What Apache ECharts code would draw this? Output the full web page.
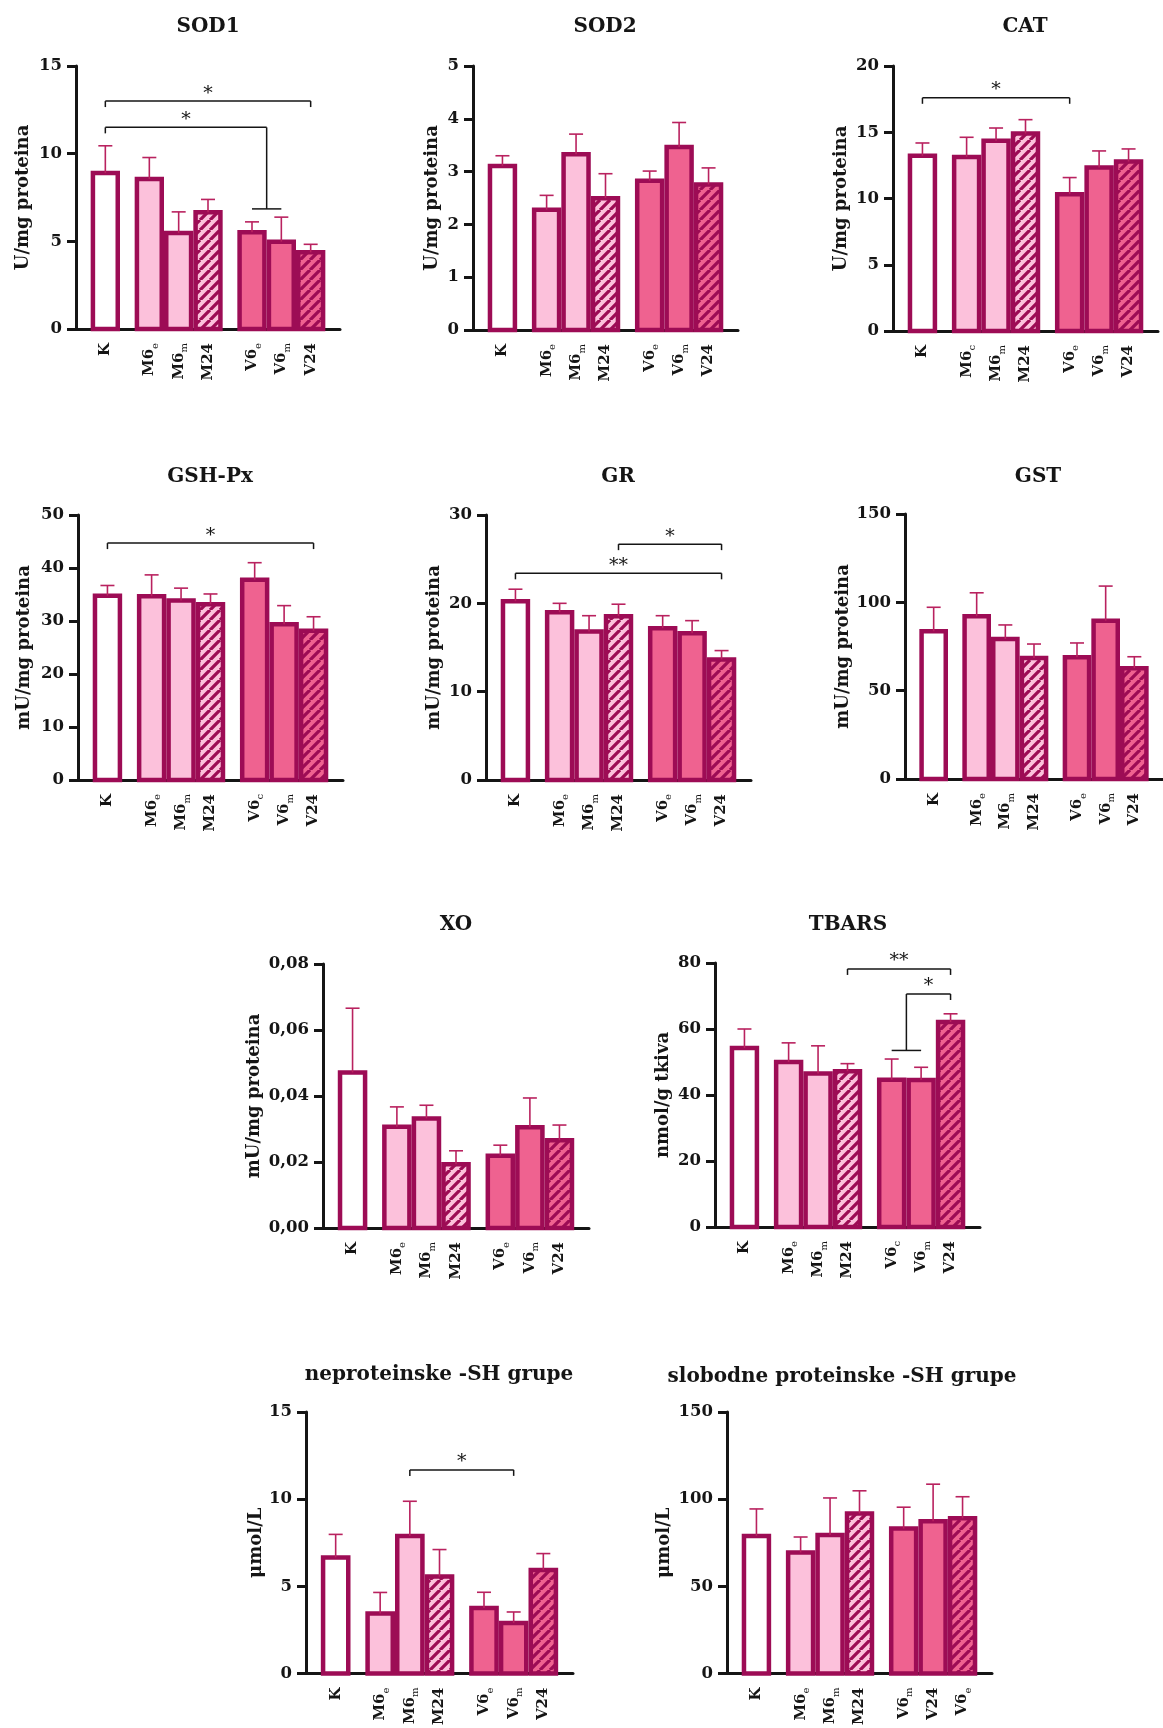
<!DOCTYPE html>
<html>
<head>
<meta charset="utf-8">
<script src="https://cdn.jsdelivr.net/npm/echarts@6/dist/echarts.min.js"></script>
<style>
  html, body { margin: 0; padding: 0; background: #ffffff; }
  #c { width: 1163px; height: 1728px; }
</style>
</head>
<body>
<div id="c"></div>
<script>
// ---- group labels ("_" marks a subscript) ----
const catsStd   = ['K', 'M6_e', 'M6_m', 'M24', 'V6_e', 'V6_m', 'V24'];
const catsCat   = ['K', 'M6_c', 'M6_m', 'M24', 'V6_e', 'V6_m', 'V24'];
const catsV6c   = ['K', 'M6_e', 'M6_m', 'M24', 'V6_c', 'V6_m', 'V24'];
const catsSlob  = ['K', 'M6_e', 'M6_m', 'M24', 'V6_m', 'V24', 'V6_e'];

// ---- means and SEM per parameter ----
const sod1Mean = [9.02, 8.68, 5.60, 6.78, 5.64, 5.11, 4.50];
const sod1Sem  = [1.43, 1.10, 1.08, 0.61, 0.47, 1.27, 0.33];
const sod1Ticks = [0, 5, 10, 15];

const sod2Mean = [3.15, 2.32, 3.37, 2.54, 2.87, 3.51, 2.80];
const sod2Sem  = [0.15, 0.23, 0.34, 0.42, 0.14, 0.42, 0.27];
const sod2Ticks = [0, 1, 2, 3, 4, 5];

const catMean = [13.39, 13.31, 14.52, 15.07, 10.50, 12.51, 12.96];
const catSem  = [0.80, 1.31, 0.80, 0.88, 1.08, 1.08, 0.78];
const catTicks = [0, 5, 10, 15, 20];

const gpxMean = [35.2, 35.1, 34.3, 33.6, 38.2, 29.8, 28.6];
const gpxSem  = [1.5, 3.6, 1.9, 1.5, 2.8, 3.1, 2.2];
const gpxTicks = [0, 10, 20, 30, 40, 50];

const grMean = [20.5, 19.25, 17.06, 18.8, 17.44, 16.87, 13.9];
const grSem  = [1.1, 0.75, 1.54, 1.1, 1.16, 1.17, 0.75];
const grTicks = [0, 10, 20, 30];

const gstMean = [84.9, 93.4, 80.5, 69.8, 70.2, 90.9, 64.0];
const gstSem  = [12.3, 12.0, 6.7, 6.6, 6.8, 18.3, 5.2];
const gstTicks = [0, 50, 100, 150];

const xoMean = [0.0478, 0.0314, 0.0339, 0.0200, 0.0226, 0.0312, 0.0273];
const xoSem  = [0.0188, 0.0053, 0.0033, 0.0034, 0.0025, 0.0082, 0.0039];
const xoTicks = [0, 0.02, 0.04, 0.06, 0.08];

const tbarsMean = [54.9, 50.7, 47.2, 47.9, 45.3, 45.2, 62.8];
const tbarsSem  = [5.1, 5.1, 7.7, 1.6, 5.6, 3.2, 1.8];
const tbarsTicks = [0, 20, 40, 60, 80];

const npshMean = [6.79, 3.57, 8.02, 5.69, 3.89, 3.03, 6.07];
const npshSem  = [1.19, 1.08, 1.86, 1.42, 0.77, 0.50, 0.81];
const npshTicks = [0, 5, 10, 15];

const pshMean = [80.2, 70.7, 80.8, 93.1, 84.4, 88.7, 90.3];
const pshSem  = [14.2, 7.6, 19.9, 11.7, 11.0, 19.9, 11.1];
const pshTicks = [0, 50, 100, 150];

// ---- significance brackets (bar indices; [i, j] = pooled pair) ----
const sod1Sig  = [
  { from: 0, to: 6, at: 13.0, mark: '*' },
  { from: 0, to: [4, 5], at: 11.5, foot: 6.85, mark: '*' }
];
const catSig   = [{ from: 0, to: 4, at: 17.6, mark: '*' }];
const gpxSig   = [{ from: 0, to: 6, at: 44.7, mark: '*' }];
const grSig    = [
  { from: 3, to: 6, at: 26.7, mark: '*' },
  { from: 0, to: 6, at: 23.4, mark: '**' }
];
const tbarsSig = [
  { from: 3, to: 6, at: 78.2, mark: '**' },
  { from: [4, 5], to: 6, at: 70.6, foot: 53.5, mark: '*' }
];
const npshSig  = [{ from: 2, to: 5, at: 11.68, mark: '*' }];

// ---- bar slots: control, then two groups of three ----
const slots = [0, 1.5, 2.5, 3.5, 5, 6, 7];
const looks = ['open', 'light', 'light', 'lightHatch', 'deep', 'deep', 'deepHatch'];

const comma2 = v => v.toFixed(2).replace('.', ',');
const plain = v => String(Math.round(v));

const panels = [
  { title: 'SOD1', unit: 'U/mg proteina', cats: catsStd, mean: sod1Mean, sem: sod1Sem, ticks: sod1Ticks, sig: sod1Sig, fmt: plain },
  { title: 'SOD2', unit: 'U/mg proteina', cats: catsStd, mean: sod2Mean, sem: sod2Sem, ticks: sod2Ticks, sig: [], fmt: plain },
  { title: 'CAT', unit: 'U/mg proteina', cats: catsCat, mean: catMean, sem: catSem, ticks: catTicks, sig: catSig, fmt: plain },
  { title: 'GSH-Px', unit: 'mU/mg proteina', cats: catsV6c, mean: gpxMean, sem: gpxSem, ticks: gpxTicks, sig: gpxSig, fmt: plain },
  { title: 'GR', unit: 'mU/mg proteina', cats: catsStd, mean: grMean, sem: grSem, ticks: grTicks, sig: grSig, fmt: plain },
  { title: 'GST', unit: 'mU/mg proteina', cats: catsStd, mean: gstMean, sem: gstSem, ticks: gstTicks, sig: [], fmt: plain },
  { title: 'XO', unit: 'mU/mg proteina', cats: catsStd, mean: xoMean, sem: xoSem, ticks: xoTicks, sig: [], fmt: comma2 },
  { title: 'TBARS', unit: 'nmol/g tkiva', cats: catsV6c, mean: tbarsMean, sem: tbarsSem, ticks: tbarsTicks, sig: tbarsSig, fmt: plain },
  { title: 'neproteinske -SH grupe', unit: 'μmol/L', cats: catsStd, mean: npshMean, sem: npshSem, ticks: npshTicks, sig: npshSig, fmt: plain },
  { title: 'slobodne proteinske -SH grupe', unit: 'μmol/L', cats: catsSlob, mean: pshMean, sem: pshSem, ticks: pshTicks, sig: [], fmt: plain }
];

// plot boxes and title anchors for the 3 + 3 + 2 + 2 arrangement
const frames = [
  { left: 76,  top: 66,   width: 264, height: 263, tx: 208,  ty: 27,   gap: 44 },
  { left: 473, top: 66,   width: 265, height: 264, tx: 605,  ty: 27,   gap: 32 },
  { left: 893, top: 66,   width: 265, height: 265, tx: 1025, ty: 27,   gap: 43 },
  { left: 78,  top: 515,  width: 265, height: 265, tx: 210,  ty: 477,  gap: 45 },
  { left: 486, top: 515,  width: 265, height: 265, tx: 618,  ty: 477,  gap: 43 },
  { left: 905, top: 514,  width: 264, height: 265, tx: 1038, ty: 477,  gap: 49 },
  { left: 323, top: 964,  width: 266, height: 264, tx: 456,  ty: 925,  gap: 60 },
  { left: 715, top: 963,  width: 265, height: 264, tx: 848,  ty: 925,  gap: 43 },
  { left: 306, top: 1412, width: 267, height: 264, tx: 439,  ty: 1375, gap: 40 },
  { left: 727, top: 1412, width: 265, height: 264, tx: 842,  ty: 1377, gap: 54 }
];

const SERIF = "'DejaVu Serif', 'Liberation Serif', serif";
const INK = '#151515';
const EDGE = '#9d0c55';
const WHISKER = '#b9225f';
const PINK_LIGHT = '#fcc1db';
const PINK_DEEP = '#ef6290';
const EDGE_W = 4.5;

function hatch(bg) {
  const c = document.createElement('canvas');
  c.width = 10; c.height = 10;
  const g = c.getContext('2d');
  g.fillStyle = bg;
  g.fillRect(0, 0, 10, 10);
  g.strokeStyle = EDGE;
  g.lineWidth = 3.3;
  g.beginPath();
  for (const o of [-10, 0, 10]) { g.moveTo(o, 10); g.lineTo(o + 10, 0); }
  g.stroke();
  return { image: c, repeat: 'repeat' };
}

const fills = {
  open: '#ffffff',
  light: PINK_LIGHT,
  lightHatch: hatch(PINK_LIGHT),
  deep: PINK_DEEP,
  deepHatch: hatch(PINK_DEEP)
};

function barItem(params, api) {
  const x = api.value(0), m = api.value(1), s = api.value(2), k = api.value(3);
  const top = api.coord([x, m]);
  const base = api.coord([x, 0]);
  const tip = api.coord([x, m + s]);
  const pitch = api.size([1, 0])[0];
  const w = pitch - EDGE_W;
  const cap = 7;
  return {
    type: 'group',
    children: [
      {
        type: 'rect',
        shape: { x: top[0] - w / 2, y: top[1] + EDGE_W / 2, width: w, height: base[1] - top[1] - EDGE_W / 2 },
        style: { fill: fills[looks[k]], stroke: EDGE, lineWidth: EDGE_W }
      },
      {
        type: 'line',
        shape: { x1: top[0], y1: top[1] + EDGE_W / 2, x2: top[0], y2: tip[1] },
        style: { stroke: WHISKER, lineWidth: 1.6 }
      },
      {
        type: 'line',
        shape: { x1: top[0] - cap, y1: tip[1], x2: top[0] + cap, y2: tip[1] },
        style: { stroke: WHISKER, lineWidth: 1.6 }
      }
    ]
  };
}

function makeBracket(sig) {
  return function (params, api) {
    const s = sig[params.dataIndex];
    const endPos = e => Array.isArray(e) ? (slots[e[0]] + slots[e[1]]) / 2 : slots[e];
    const px = v => api.coord([v, 0])[0];
    const y = api.coord([0, s.at])[1];
    const xa = px(endPos(s.from));
    const xb = px(endPos(s.to));
    const ls = { stroke: INK, lineWidth: 1.5 };
    const kids = [{ type: 'line', shape: { x1: xa, y1: y, x2: xb, y2: y }, style: ls }];
    [s.from, s.to].forEach(e => {
      const x = px(endPos(e));
      if (Array.isArray(e)) {
        const fy = api.coord([0, s.foot])[1];
        kids.push({ type: 'line', shape: { x1: x, y1: y, x2: x, y2: fy }, style: ls });
        kids.push({ type: 'line', shape: { x1: px(slots[e[0]]), y1: fy, x2: px(slots[e[1]]), y2: fy }, style: ls });
      } else {
        kids.push({ type: 'line', shape: { x1: x, y1: y, x2: x, y2: y + 6 }, style: ls });
      }
    });
    kids.push({
      type: 'text',
      style: {
        text: s.mark, x: (xa + xb) / 2, y: y + 2, align: 'center', verticalAlign: 'bottom',
        fontFamily: SERIF, fontSize: 19, fill: INK
      }
    });
    return { type: 'group', children: kids };
  };
}

const grids = [], xAxes = [], yAxes = [], series = [], graphics = [];

panels.forEach((p, i) => {
  const f = frames[i];
  grids.push({ left: f.left, top: f.top, width: f.width, height: f.height, containLabel: false });

  xAxes.push({
    type: 'value', gridIndex: i, min: -1, max: 8,
    axisLine: { show: true, onZero: false, lineStyle: { color: INK, width: 3 } },
    axisTick: { show: false },
    splitLine: { show: false },
    axisLabel: {
      show: true,
      customValues: slots,
      rotate: 90,
      margin: 14,
      formatter: v => {
        const j = slots.findIndex(s => Math.abs(s - v) < 1e-6);
        if (j < 0) return '';
        const parts = p.cats[j].split('_');
        return parts.length > 1 ? '{b|' + parts[0] + '}{s|' + parts[1] + '}' : '{b|' + parts[0] + '}';
      },
      rich: {
        b: { fontFamily: SERIF, fontWeight: 'bold', fontSize: 15, color: INK, lineHeight: 22, verticalAlign: 'middle' },
        s: { fontFamily: SERIF, fontWeight: 'normal', fontSize: 10, color: INK, lineHeight: 12, verticalAlign: 'bottom' }
      }
    }
  });

  yAxes.push({
    type: 'value', gridIndex: i,
    min: p.ticks[0], max: p.ticks[p.ticks.length - 1], interval: p.ticks[1] - p.ticks[0],
    name: p.unit, nameLocation: 'middle', nameGap: f.gap,
    nameTextStyle: { fontFamily: SERIF, fontWeight: 'bold', fontSize: 18, color: INK },
    axisLine: { show: true, onZero: false, lineStyle: { color: INK, width: 3 } },
    axisTick: { show: true, length: 9, lineStyle: { color: INK, width: 3 } },
    splitLine: { show: false },
    axisLabel: { margin: 14, fontFamily: SERIF, fontWeight: 'bold', fontSize: 16.5, color: INK, formatter: p.fmt }
  });

  series.push({
    type: 'custom', xAxisIndex: i, yAxisIndex: i,
    data: p.mean.map((m, j) => [slots[j], m, p.sem[j], j]),
    renderItem: barItem,
    silent: true
  });

  if (p.sig.length) {
    series.push({
      type: 'custom', xAxisIndex: i, yAxisIndex: i,
      data: p.sig.map((s, k) => [k, s.at]),
      renderItem: makeBracket(p.sig),
      silent: true,
      z: 5
    });
  }

  graphics.push({
    type: 'text', x: f.tx, y: f.ty,
    style: { text: p.title, align: 'center', verticalAlign: 'middle', fontFamily: SERIF, fontWeight: 'bold', fontSize: 20, fill: INK }
  });
});

const chart = echarts.init(document.getElementById('c'));
chart.setOption({
  backgroundColor: '#ffffff',
  animation: false,
  grid: grids,
  xAxis: xAxes,
  yAxis: yAxes,
  series: series,
  graphic: graphics
});
</script>
</body>
</html>
